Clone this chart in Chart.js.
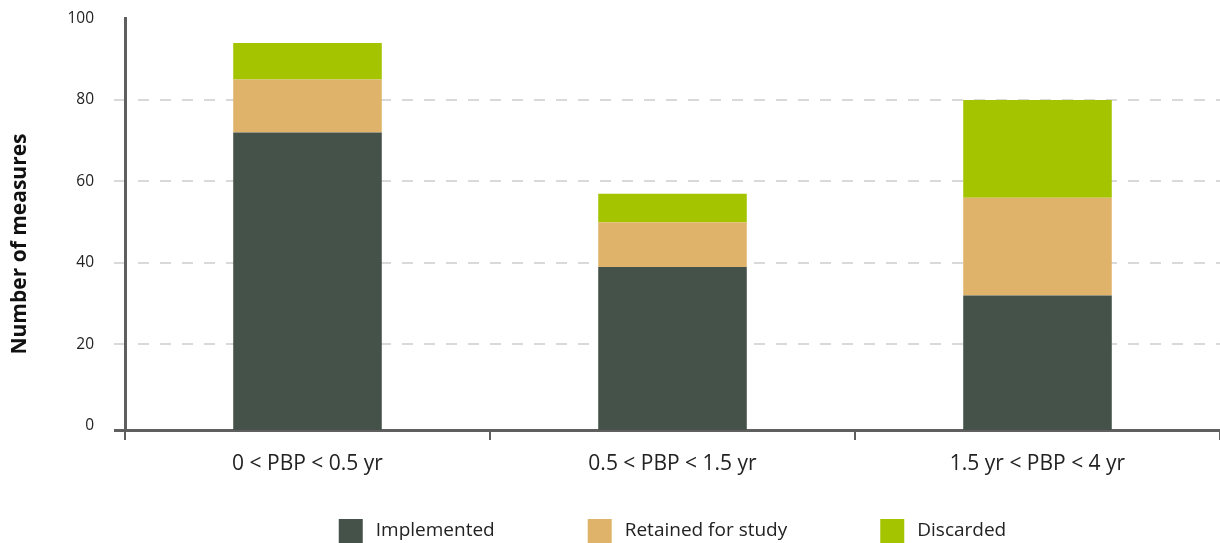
<!DOCTYPE html>
<html>
<head>
<meta charset="utf-8">
<script src="https://cdn.jsdelivr.net/npm/chart.js@4/dist/chart.umd.min.js"></script>
<style>
  html, body { margin: 0; padding: 0; background: #ffffff; }
  #wrap { width: 1220px; height: 543px; position: relative; }
</style>
</head>
<body>
<div id="wrap"><canvas id="chart" width="1220" height="543"></canvas></div>
<script>
// Payback-period groups and the number of measures in each outcome
const categories = ['0 < PBP < 0.5 yr', '0.5 < PBP < 1.5 yr', '1.5 yr < PBP < 4 yr'];
const implemented = [72, 39, 32];
const retained = [13, 11, 24];
const discarded = [9, 7, 24];
const yTicks = [0, 20, 40, 60, 80, 100];
const seriesNames = ['Implemented', 'Retained for study', 'Discarded'];
const seriesColors = ['#44524a', '#dfb46a', '#a4c400'];
const axisTitle = 'Number of measures';

const FONT = '"Open Sans", "DejaVu Sans", sans-serif';
const AXIS_COLOR = '#5f5f5f';
const GRID_COLOR = '#d9d9d9';
const TEXT_COLOR = '#222222';

// Rotated y-axis title, a short stub of the x axis left of the origin,
// and a bottom legend with square swatches
const decorations = {
  id: 'decorations',
  afterDraw(chart) {
    const ctx = chart.ctx;
    const area = chart.chartArea;
    ctx.save();

    // x axis stub to the left of the y axis
    ctx.strokeStyle = AXIS_COLOR;
    ctx.lineWidth = 3;
    ctx.beginPath();
    ctx.moveTo(area.left - 11, area.bottom + 0.5);
    ctx.lineTo(area.left, area.bottom + 0.5);
    ctx.stroke();

    // axis title
    ctx.save();
    ctx.translate(20, 244);
    ctx.rotate(-Math.PI / 2);
    ctx.font = 'bold 21px ' + FONT;
    ctx.fillStyle = '#111111';
    ctx.textAlign = 'center';
    ctx.textBaseline = 'middle';
    ctx.fillText(axisTitle, 0, 0);
    ctx.restore();

    // legend
    ctx.font = '19px ' + FONT;
    const box = 24, gapText = 13, gapItem = 93;
    const items = chart.data.datasets.map(d => ({
      label: d.label, color: d.backgroundColor, w: ctx.measureText(d.label).width
    }));
    const total = items.reduce((s, it) => s + box + gapText + it.w, 0) + gapItem * (items.length - 1);
    let x = (area.left + area.right) / 2 - total / 2;
    const top = 519;
    ctx.textBaseline = 'middle';
    ctx.textAlign = 'left';
    items.forEach(it => {
      ctx.fillStyle = it.color;
      ctx.fillRect(x, top, box, box);
      ctx.fillStyle = TEXT_COLOR;
      ctx.fillText(it.label, x + box + gapText, top + box / 2);
      x += box + gapText + it.w + gapItem;
    });
    ctx.restore();
  }
};

const innerGrid = v => v > 0 && v < 100;

new Chart(document.getElementById('chart'), {
  type: 'bar',
  data: {
    labels: categories,
    datasets: [
      { label: seriesNames[0], data: implemented, backgroundColor: seriesColors[0], base: -1 },
      { label: seriesNames[1], data: retained, backgroundColor: seriesColors[1] },
      { label: seriesNames[2], data: discarded, backgroundColor: seriesColors[2] }
    ]
  },
  options: {
    responsive: false,
    animation: false,
    devicePixelRatio: 1,
    categoryPercentage: 1,
    barPercentage: 0.407,
    layout: { padding: { top: 18.5, right: -3, bottom: 0, left: 0 } },
    plugins: {
      legend: { display: false },
      tooltip: { enabled: false },
      title: { display: false }
    },
    scales: {
      x: {
        stacked: true,
        offset: true,
        grid: {
          offset: true,
          drawOnChartArea: false,
          drawTicks: true,
          tickLength: 10,
          tickColor: AXIS_COLOR,
          tickWidth: 2,
          color: AXIS_COLOR,
          lineWidth: 2
        },
        border: { display: true, color: AXIS_COLOR, width: 3 },
        ticks: {
          font: { family: FONT, size: 21 },
          color: TEXT_COLOR,
          padding: 11,
          maxRotation: 0,
          autoSkip: false
        },
        afterFit(scale) { scale.height = 113; }
      },
      y: {
        stacked: true,
        min: -1,
        max: 100,
        afterBuildTicks(scale) { scale.ticks = yTicks.map(v => ({ value: v })); },
        grid: {
          color: ctx => (ctx.tick && innerGrid(ctx.tick.value)) ? GRID_COLOR : 'rgba(0,0,0,0)',
          tickColor: ctx => (ctx.tick && innerGrid(ctx.tick.value)) ? GRID_COLOR : 'rgba(0,0,0,0)',
          lineWidth: 2,
          tickWidth: 2,
          tickLength: 11,
          drawTicks: true
        },
        border: { display: true, color: AXIS_COLOR, width: 3, dash: [11, 11], dashOffset: 11 },
        ticks: {
          font: { family: FONT, size: 15.5 },
          color: TEXT_COLOR,
          padding: 20
        },
        afterFit(scale) {
          scale.width = 125;
          scale.paddingTop = 8;
          scale.paddingBottom = 0;
        }
      }
    }
  },
  plugins: [decorations]
});
</script>
</body>
</html>
